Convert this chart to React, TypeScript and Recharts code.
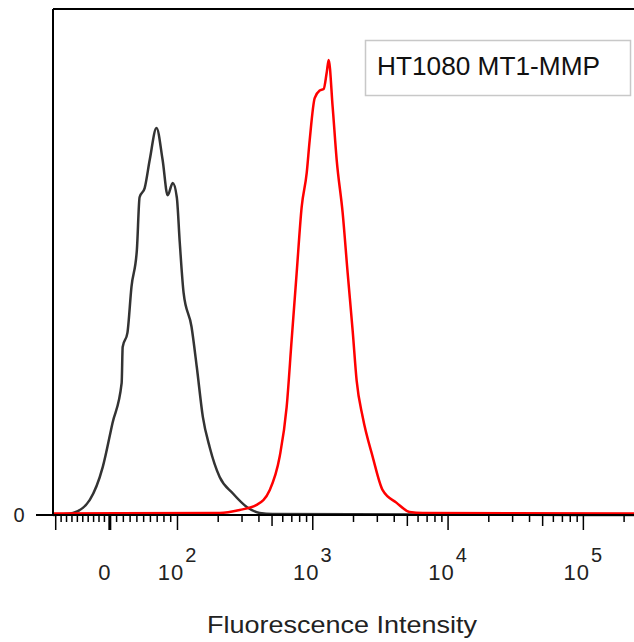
import { Line, LineChart, ReferenceLine, XAxis, YAxis } from "recharts";

// intensity (linear units) and histogram height (% of axis max)
const controlIntensity = [
  -105, -90, -68, -37, -13, 4, 17.5, 19, 26, 32, 40, 44, 51.5, 59, 69, 78, 85.5,
  93, 99, 104, 111, 127, 139, 154, 173, 205, 256, 325, 405, 505, 262144,
];
const controlCount = [
  0, 0.1, 0.4, 3.0, 9.5, 18.2, 26.1, 33.2, 36.0, 45.1, 52.4, 62.8, 64.6, 70.2,
  76.5, 70.2, 63.2, 65.6, 62.8, 53.8, 43.9, 37.2, 29.2, 19.4, 13.4, 7.5, 4.3,
  1.6, 0.4, 0.2, 0,
];

const mt1Intensity = [
  -105, 205, 288, 385, 480, 569, 641, 698, 760, 828, 902, 949, 1033, 1125,
  1204, 1267, 1311, 1403, 1502, 1663, 1811, 1972, 2111, 2337, 2772, 3286,
  4169, 5203, 6486, 262144,
];
const mt1Count = [
  0.3, 0.4, 1.0, 2.0, 4.9, 11.5, 21.3, 34.6, 47.8, 60.9, 67.6, 74.1, 82.4,
  83.9, 84.2, 87.4, 89.9, 80.6, 70.2, 59.7, 47.8, 36.4, 26.5, 19.4, 11.5, 4.9,
  2.4, 0.6, 0.4, 0.3,
];

const majorTicks = [-100, 0, 100, 1000, 10000, 100000];
const mediumTicks = [500, 5000, 50000];
const minorTicks = [
  -90, -80, -70, -60, -50, -40, -30, -20, -10,
  10, 20, 30, 40, 50, 60, 70, 80, 90,
  200, 300, 400, 600, 700, 800, 900,
  2000, 3000, 4000, 6000, 7000, 8000, 9000,
  20000, 30000, 40000, 60000, 70000, 80000, 90000,
  200000,
];
const tickLabels: Record<number, [string, string]> = {
  0: ["0", ""],
  100: ["10", "2"],
  1000: ["10", "3"],
  10000: ["10", "4"],
  100000: ["10", "5"],
};

// biexponential-like display transform: log above 100, linear around zero
const toDisplay = (v: number) =>
  v >= 100 ? Math.log10(v) : v >= 0 ? 1.5 + v * 0.005 : 1.5 + v * 0.004;
const fromDisplay = (t: number) =>
  t >= 2 ? Math.pow(10, t) : t >= 1.5 ? (t - 1.5) / 0.005 : (t - 1.5) / 0.004;

const controlData = controlIntensity.map((v, i) => ({
  x: toDisplay(v),
  count: controlCount[i],
}));
const mt1Data = mt1Intensity.map((v, i) => ({
  x: toDisplay(v),
  count: mt1Count[i],
}));

const allTicks = [...majorTicks, ...mediumTicks, ...minorTicks]
  .sort((a, b) => a - b)
  .map(toDisplay);

const FONT = "Liberation Sans, Arial, Helvetica, sans-serif";

const nearest = (list: number[], v: number) =>
  list.find((t) => Math.abs(t - v) < Math.max(0.5, Math.abs(t) * 0.01));

const IntensityTick = (props: any) => {
  const { x, y, payload } = props;
  const v = fromDisplay(payload.value);
  const major = nearest(majorTicks, v);
  const medium = nearest(mediumTicks, v);
  const len = major !== undefined ? 15 : medium !== undefined ? 11 : 7;
  const label = major !== undefined ? tickLabels[major] : undefined;
  return (
    <g>
      <line
        x1={x}
        x2={x}
        y1={y}
        y2={y + len}
        stroke="#000"
        strokeWidth={major === 0 ? 3 : 1.5}
      />
      {label && (
        <text
          x={major === 0 ? x - 5 : x}
          y={y + 65}
          textAnchor="middle"
          fontFamily={FONT}
          fontSize={22}
          letterSpacing={1}
          fill="#222"
        >
          {label[0]}
          {label[1] && (
            <tspan dy={-18} dx={1} fontSize={20}>
              {label[1]}
            </tspan>
          )}
        </text>
      )}
    </g>
  );
};

const CountTick = (props: any) => {
  const { y } = props;
  return (
    <text
      x={19}
      y={y}
      textAnchor="middle"
      dominantBaseline="central"
      fontFamily={FONT}
      fontSize={20}
      fill="#222"
    >
      0
    </text>
  );
};

export default function App() {
  return (
    <div
      style={{
        position: "absolute",
        left: 0,
        top: 0,
        width: 634,
        height: 642,
        overflow: "hidden",
        background: "#fff",
      }}
    >
      <LineChart
        width={660}
        height={642}
        margin={{ top: 9, right: 20, bottom: 67, left: 0 }}
      >
        <XAxis
          dataKey="x"
          type="number"
          domain={[toDisplay(-105), toDisplay(262144)]}
          ticks={allTicks}
          interval={0}
          allowDataOverflow
          height={60}
          tickLine={false}
          tickSize={0}
          tickMargin={0}
          axisLine={{ stroke: "#000", strokeWidth: 2 }}
          tick={<IntensityTick />}
        />
        <YAxis
          type="number"
          domain={[0, 100]}
          ticks={[0]}
          width={53}
          tickSize={17}
          tickLine={{ stroke: "#000", strokeWidth: 2 }}
          axisLine={{ stroke: "#000", strokeWidth: 2 }}
          tick={<CountTick />}
        />
        <ReferenceLine y={100} stroke="#000" strokeWidth={2} />
        <Line
          data={controlData}
          dataKey="count"
          type="monotone"
          stroke="#333333"
          strokeWidth={2.5}
          dot={false}
          isAnimationActive={false}
        />
        <Line
          data={mt1Data}
          dataKey="count"
          type="monotone"
          stroke="#ff0000"
          strokeWidth={2.5}
          dot={false}
          isAnimationActive={false}
        />
        <g>
          <rect
            x={365.5}
            y={40.5}
            width={265}
            height={55}
            fill="#fff"
            stroke="#c8c8c8"
            strokeWidth={1.5}
          />
          <text
            x={377}
            y={75}
            fontFamily={FONT}
            fontSize={25}
            textLength={223}
            lengthAdjust="spacingAndGlyphs"
            fill="#111"
          >
            HT1080 MT1-MMP
          </text>
        </g>
        <text
          x={342}
          y={633}
          textAnchor="middle"
          fontFamily={FONT}
          fontSize={24}
          textLength={270}
          lengthAdjust="spacingAndGlyphs"
          fill="#222"
        >
          Fluorescence Intensity
        </text>
      </LineChart>
    </div>
  );
}
